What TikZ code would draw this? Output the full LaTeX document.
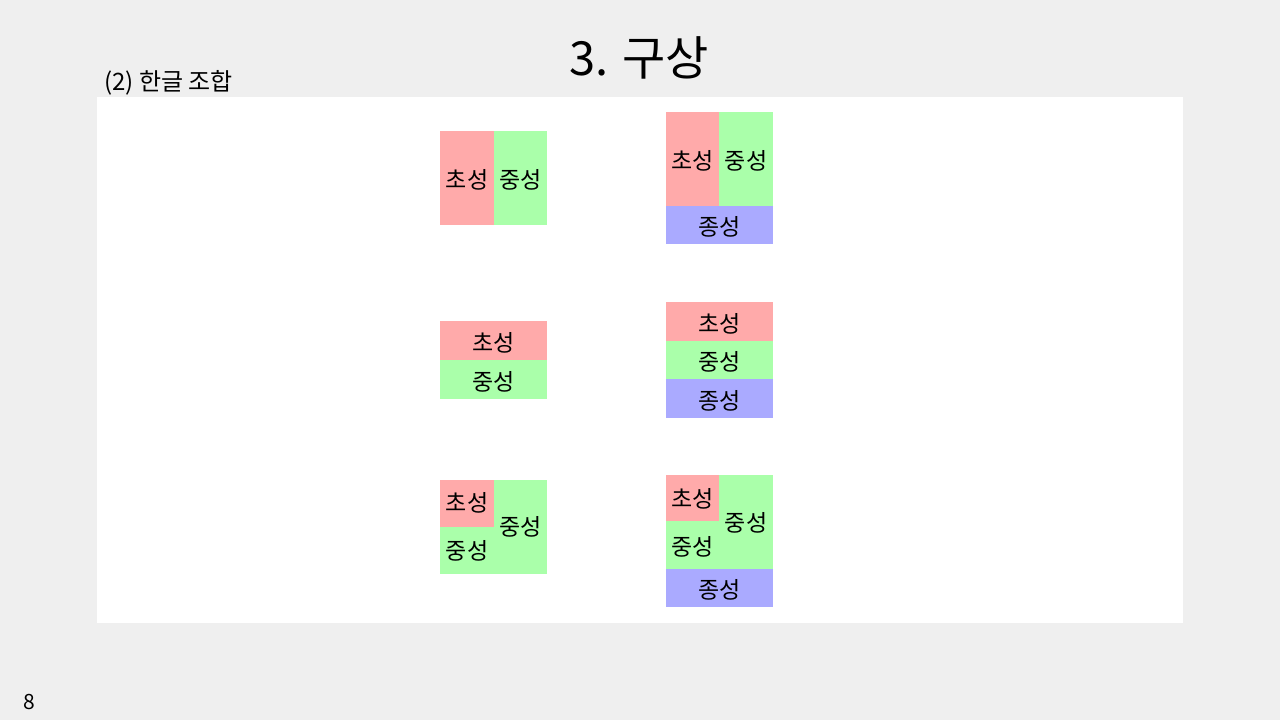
\documentclass[tikz,border=0pt]{standalone}
\usepackage{fontspec}
\setmainfont{Noto Sans CJK KR}
\definecolor{bgc}{HTML}{EFEFEF}
\definecolor{cho}{HTML}{FFAAAA}
\definecolor{jung}{HTML}{AAFFAA}
\definecolor{jong}{HTML}{AAAAFF}
\tikzset{
  lbl/.style={font=\fontsize{23}{26}\selectfont, inner sep=0pt, anchor=center, yshift=-2pt},
  chobox/.style={fill=cho, draw=none},
  jungbox/.style={fill=jung, draw=none},
  jongbox/.style={fill=jong, draw=none},
}
\begin{document}
\begin{tikzpicture}[x=1pt,y=-1pt]
\useasboundingbox (0,0) rectangle (1280,720);
\fill[bgc] (0,0) rectangle (1280,720);
\fill[white] (97,97) rectangle (1183,623);
\node[font=\fontsize{47}{50}\selectfont, inner sep=0pt] (title) at (639,58) {3. 구상};
\node[font=\fontsize{24}{28}\selectfont, inner sep=0pt, anchor=west] (sub) at (104,83) {(2) 한글 조합};
\node[font=\fontsize{21}{24}\selectfont, inner sep=0pt] (page) at (29,702) {8};

% Row 1 left
\fill[chobox] (440,131) rectangle (494,225);
\fill[jungbox] (494,131) rectangle (547,225);
\node[lbl] (a1) at (467,178) {초성};
\node[lbl] (a2) at (520.5,178) {중성};
% Row 1 right
\fill[chobox] (666,112) rectangle (719,206);
\fill[jungbox] (719,112) rectangle (773,206);
\fill[jongbox] (666,206) rectangle (773,244);
\node[lbl] (b1) at (692.5,159) {초성};
\node[lbl] (b2) at (746,159) {중성};
\node[lbl] (b3) at (719.5,225) {종성};

% Row 2 left
\fill[chobox] (440,321) rectangle (547,360);
\fill[jungbox] (440,360) rectangle (547,399);
\node[lbl] (c1) at (493.5,340.5) {초성};
\node[lbl] (c2) at (493.5,379.5) {중성};
% Row 2 right
\fill[chobox] (666,302) rectangle (773,341);
\fill[jungbox] (666,341) rectangle (773,379);
\fill[jongbox] (666,379) rectangle (773,418);
\node[lbl] (d1) at (719.5,321.5) {초성};
\node[lbl] (d2) at (719.5,360) {중성};
\node[lbl] (d3) at (719.5,398.5) {종성};

% Row 3 left
\fill[jungbox] (440,480) rectangle (547,574);
\fill[chobox] (440,480) rectangle (494,527);
\node[lbl] (e1) at (467,501) {초성};
\node[lbl] (e2) at (467,549) {중성};
\node[lbl] (e3) at (520.5,525) {중성};
% Row 3 right
\fill[jungbox] (666,475) rectangle (773,569);
\fill[chobox] (666,475) rectangle (719,521);
\fill[jongbox] (666,569) rectangle (773,607);
\node[lbl] (f1) at (692.5,497) {초성};
\node[lbl] (f2) at (692.5,545) {중성};
\node[lbl] (f3) at (746,521) {중성};
\node[lbl] (f4) at (719.5,588) {종성};
\end{tikzpicture}
\end{document}
